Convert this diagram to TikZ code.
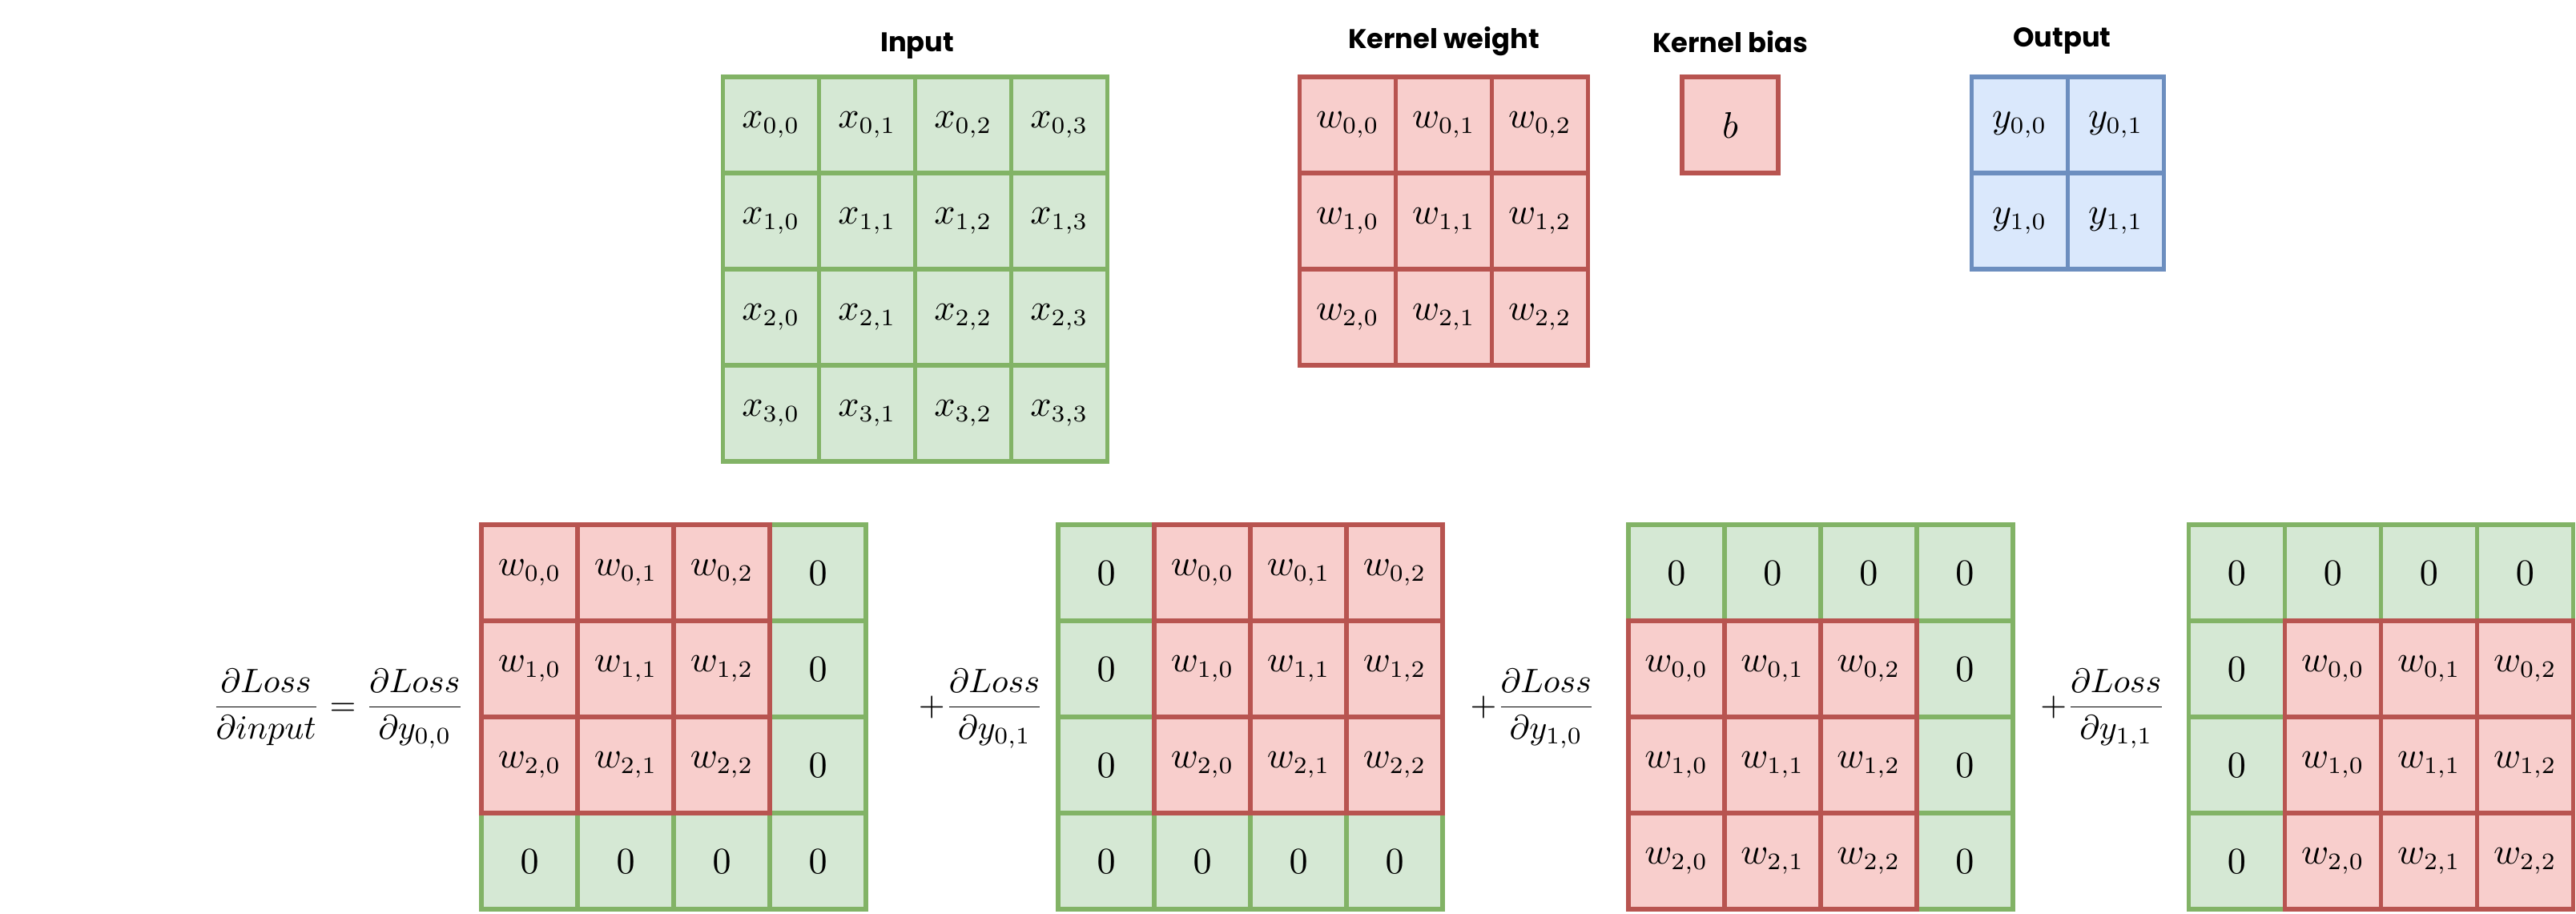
\documentclass[tikz,border=0pt]{standalone}
\usepackage{fontspec}
\usepackage{amsmath}
\usetikzlibrary{positioning,calc}
\newfontfamily\titlefont{Poppins}

\begin{document}
\begin{tikzpicture}
    % Draw.io like cell colours
    \definecolor{greenfill}{HTML}{D5E8D4}
    \definecolor{greenline}{HTML}{82B366}
    \definecolor{redfill}{HTML}{F8CECC}
    \definecolor{redline}{HTML}{B85450}
    \definecolor{bluefill}{HTML}{DAE8FC}
    \definecolor{blueline}{HTML}{6C8EBF}

    \tikzset{
        cell/.style={minimum size=1cm, inner sep=0pt, line width=1.3pt, font=\fontsize{10.5}{12}\selectfont},
        xcell/.style={cell, draw=greenline, fill=greenfill},
        wcell/.style={cell, draw=redline, fill=redfill},
        ycell/.style={cell, draw=blueline, fill=bluefill},
        title/.style={font=\titlefont\bfseries\fontsize{8}{10}\selectfont},
        term/.style={font=\fontsize{10}{12}\selectfont, inner sep=0pt}
    }

    \useasboundingbox (0,0) rectangle (26.8,9.5);

    % Input 4x4
    \foreach \i in {0,...,3}
        \foreach \j in {0,...,3}
            \node[xcell] (x-\i-\j) at (8.02+\j,8.2-\i) {$x_{\i,\j}$};
    \node[title] (input) at ($(x-0-1.north east)+(0,0.30)$) {Input};

    % Kernel weight 3x3
    \foreach \i in {0,...,2}
        \foreach \j in {0,...,2}
            \node[wcell] (w-\i-\j) at (14.02+\j,8.2-\i) {$w_{\i,\j}$};
    \node[title] (weight) at ($(w-0-1.north)+(0,0.35)$) {Kernel weight};

    % Kernel bias
    \node[wcell] (b) at (18.0,8.2) {$b$};
    \node[title] (bias) at ($(b.north)+(0,0.34)$) {Kernel bias};

    % Output 2x2
    \foreach \i in {0,1}
        \foreach \j in {0,1}
            \node[ycell] (y-\i-\j) at (21.01+\j,8.2-\i) {$y_{\i,\j}$};
    \node[title] (output) at ($(y-0-0.north east)+(-0.08,0.35)$) {Output};

    % Gradient of the input: four padded kernels
    \foreach \m/\ox/\r/\c in {1/5.51/0/0, 2/11.51/0/1, 3/17.44/1/0, 4/23.27/1/1} {
        % zero cells first
        \foreach \i in {0,...,3}
            \foreach \j in {0,...,3} {
                \pgfmathtruncatemacro{\a}{\i-\r}
                \pgfmathtruncatemacro{\b}{\j-\c}
                \pgfmathtruncatemacro{\inw}{(\a>=0)*(\a<=2)*(\b>=0)*(\b<=2)}
                \ifnum\inw=0
                    \node[xcell] (m\m-\i-\j) at (\ox+\j,3.54-\i) {$0$};
                \fi
            }
        % kernel cells on top
        \foreach \i in {0,...,2}
            \foreach \j in {0,...,2} {
                \pgfmathtruncatemacro{\a}{\i+\r}
                \pgfmathtruncatemacro{\b}{\j+\c}
                \node[wcell] (m\m-\a-\b) at (\ox+\b,3.54-\a) {$w_{\i,\j}$};
            }
    }

    % Terms of the sum
    \node[term, anchor=base east] (t1) at ($(m1-1-0.south west)+(-0.15,0.04)$)
        {$\displaystyle\frac{\partial Loss}{\partial input} = \frac{\partial Loss}{\partial y_{0,0}}$};
    \node[term, anchor=base east] (t2) at ($(m2-1-0.south west)+(-0.12,0.04)$)
        {$\displaystyle+\frac{\partial Loss}{\partial y_{0,1}}$};
    \node[term, anchor=base east] (t3) at ($(m3-1-0.south west)+(-0.31,0.04)$)
        {$\displaystyle+\frac{\partial Loss}{\partial y_{1,0}}$};
    \node[term, anchor=base east] (t4) at ($(m4-1-0.south west)+(-0.21,0.04)$)
        {$\displaystyle+\frac{\partial Loss}{\partial y_{1,1}}$};

\end{tikzpicture}
\end{document}
